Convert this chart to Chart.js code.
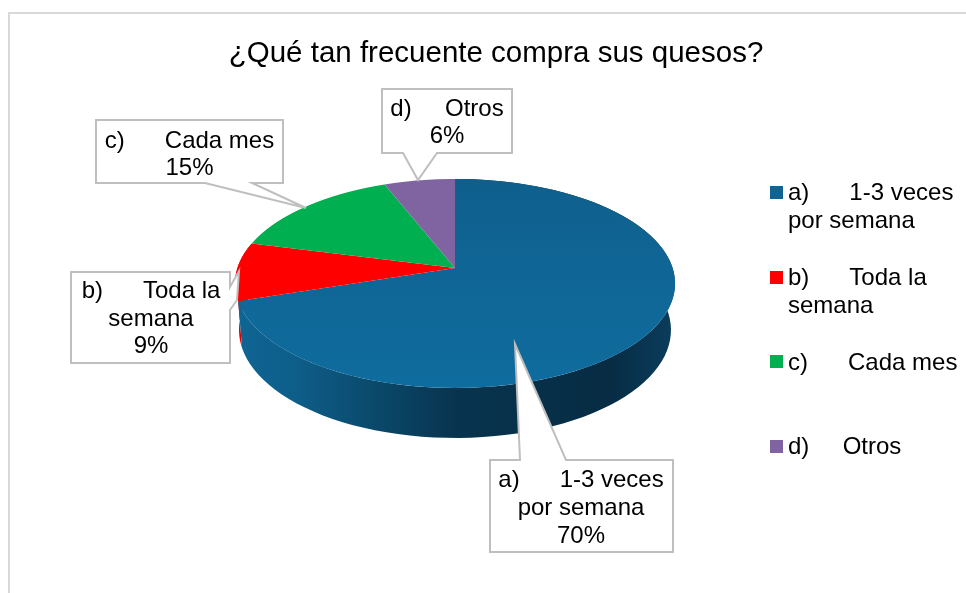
<!DOCTYPE html>
<html>
<head>
<meta charset="utf-8">
<style>html,body{margin:0;padding:0;background:#fff}canvas{display:block}</style>
<script src="https://cdn.jsdelivr.net/npm/chart.js@4"></script>
</head>
<body>
<canvas id="c" width="966" height="593"></canvas>
<script>
const chartTitle = '¿Qué tan frecuente compra sus quesos?';
const categoryLines = [
  ['a)      1-3 veces', 'por semana'],
  ['b)      Toda la', 'semana'],
  ['c)      Cada mes'],
  ['d)     Otros']
];
const values = [70, 9, 15, 6];
const percentLabels = ['70%', '9%', '15%', '6%'];
const sliceColors = ['#0F6494', '#FF0000', '#00B050', '#8064A2'];
const wallColors = ['#0a3a58', '#e00000', '#008040', '#5c4876'];

const FONT = '"Liberation Sans", Arial, sans-serif';
const TOP = { x: 455, y: 268, a: 102.2, b: 217.6 };
const LOW = { x: 455, y: 314, a: 105.6, b: 213.6 };
const K = -0.148;

const legendLayout = [
  { swatchY: 186, lineX: 788, baselines: [200, 228] },
  { swatchY: 271, lineX: 788, baselines: [285, 313] },
  { swatchY: 355, lineX: 788, baselines: [370] },
  { swatchY: 440, lineX: 788, baselines: [454] }
];
const calloutLayout = [
  { path: [[490,460],[520,460],[515,344],[566,460],[673,460],[673,552],[490,552]], cx: 581, baselines: [487,515,543] },
  { path: [[71,272],[230,272],[230,287],[239,271],[237,300],[230,310],[230,363],[71,363]], cx: 151, baselines: [298,326,353] },
  { path: [[96,120],[283,120],[283,183],[252,183],[306,208],[205,183],[96,183]], cx: 189.5, baselines: [148,175] },
  { path: [[382,89],[512,89],[512,153],[437,153],[418,180],[403,153],[382,153]], cx: 447, baselines: [116,143] }
];

function pt(P, t) {
  const u = Math.cos(t), v = Math.sin(t), w = 1 + K * v;
  return [P.x + P.b * u / w, P.y + P.a * v / w];
}

const pie3d = {
  id: 'pie3d',
  afterLayout(chart) {
    // centre the title over the plot + legend block, as in the picture
    chart.titleBlock.left = 26;
    chart.titleBlock.right = 966;
  },
  beforeDraw(chart) {
    const ctx = chart.ctx;
    ctx.save();
    ctx.strokeStyle = '#d9d9d9';
    ctx.lineWidth = 2;
    ctx.strokeRect(9, 13, 2000, 2000);
    ctx.restore();
  },
  beforeDatasetDraw(chart) {
    const ctx = chart.ctx;
    const arcs = chart.getDatasetMeta(0).data;
    // side walls
    const grad = ctx.createLinearGradient(238, 0, 674, 0);
    grad.addColorStop(0, '#0f6593');
    grad.addColorStop(0.13, '#0e5e8a');
    grad.addColorStop(0.33, '#0a4768');
    grad.addColorStop(0.5, '#08344f');
    grad.addColorStop(0.85, '#072c44');
    grad.addColorStop(1, '#0a3d5c');
    [1, 0].forEach(i => {
      const a = arcs[i];
      const n = 90;
      ctx.beginPath();
      for (let s = 0; s <= n; s++) {
        const p = pt(TOP, a.startAngle + (a.endAngle - a.startAngle) * s / n);
        s ? ctx.lineTo(p[0], p[1]) : ctx.moveTo(p[0], p[1]);
      }
      for (let s = n; s >= 0; s--) {
        const p = pt(LOW, a.startAngle + (a.endAngle - a.startAngle) * s / n);
        ctx.lineTo(p[0], p[1]);
      }
      ctx.closePath();
      ctx.fillStyle = i === 0 ? grad : wallColors[i];
      ctx.fill();
    });
    // top face: library arcs, drawn row by row through the perspective map
    const cx = arcs[0].x, cy = arcs[0].y, R = arcs[0].outerRadius;
    for (let y = -92; y < 124; y++) {
      const v0 = y / (TOP.a - K * y), v1 = (y + 1) / (TOP.a - K * (y + 1));
      const vm = (v0 + v1) / 2, w = 1 + K * vm;
      const sx = TOP.b / (w * R), sy = 1 / ((v1 - v0) * R);
      ctx.save();
      ctx.beginPath();
      ctx.rect(0, TOP.y + y, 966, 1);
      ctx.clip();
      ctx.setTransform(sx, 0, 0, sy, TOP.x - sx * cx, TOP.y + y - sy * (cy + v0 * R));
      arcs.forEach(a => a.draw(ctx));
      ctx.restore();
    }
    return false;
  },
  afterDatasetsDraw(chart) {
    const ctx = chart.ctx;
    ctx.save();
    ctx.font = '24px ' + FONT;
    ctx.textBaseline = 'alphabetic';
    // callouts
    calloutLayout.forEach((c, i) => {
      ctx.beginPath();
      c.path.forEach((p, j) => j ? ctx.lineTo(p[0], p[1]) : ctx.moveTo(p[0], p[1]));
      ctx.closePath();
      ctx.fillStyle = '#fff';
      ctx.fill();
      ctx.strokeStyle = '#bfbfbf';
      ctx.lineWidth = 2;
      ctx.stroke();
      ctx.fillStyle = '#000';
      ctx.textAlign = 'center';
      categoryLines[i].concat([percentLabels[i]]).forEach((t, j) => ctx.fillText(t, c.cx, c.baselines[j]));
    });
    // legend
    legendLayout.forEach((l, i) => {
      ctx.fillStyle = sliceColors[i];
      ctx.fillRect(770, l.swatchY, 13, 13);
      ctx.fillStyle = '#000';
      ctx.textAlign = 'left';
      categoryLines[i].forEach((t, j) => ctx.fillText(t, l.lineX, l.baselines[j]));
    });
    ctx.restore();
  }
};

new Chart(document.getElementById('c'), {
  type: 'pie',
  data: {
    labels: categoryLines.map(l => l.join(' ')),
    datasets: [{
      data: values,
      backgroundColor: c => {
        if (c.dataIndex !== 0 || !c.chart.chartArea) return sliceColors[c.dataIndex];
        const ca = c.chart.chartArea;
        const g = c.chart.ctx.createLinearGradient(0, ca.top, 0, ca.bottom);
        g.addColorStop(0, '#0f5f8c');
        g.addColorStop(1, '#0f6c9e');
        return g;
      },
      borderWidth: 0
    }]
  },
  options: {
    responsive: false,
    animation: false,
    rotation: 0,
    layout: { padding: { top: 36, left: 235, right: 291, bottom: 105 } },
    plugins: {
      legend: { display: false },
      tooltip: { enabled: false },
      title: {
        display: true,
        text: chartTitle,
        color: '#000',
        padding: 0,
        font: { family: FONT, size: 29.5, weight: 'normal' }
      }
    }
  },
  plugins: [pie3d]
});
</script>
</body>
</html>
